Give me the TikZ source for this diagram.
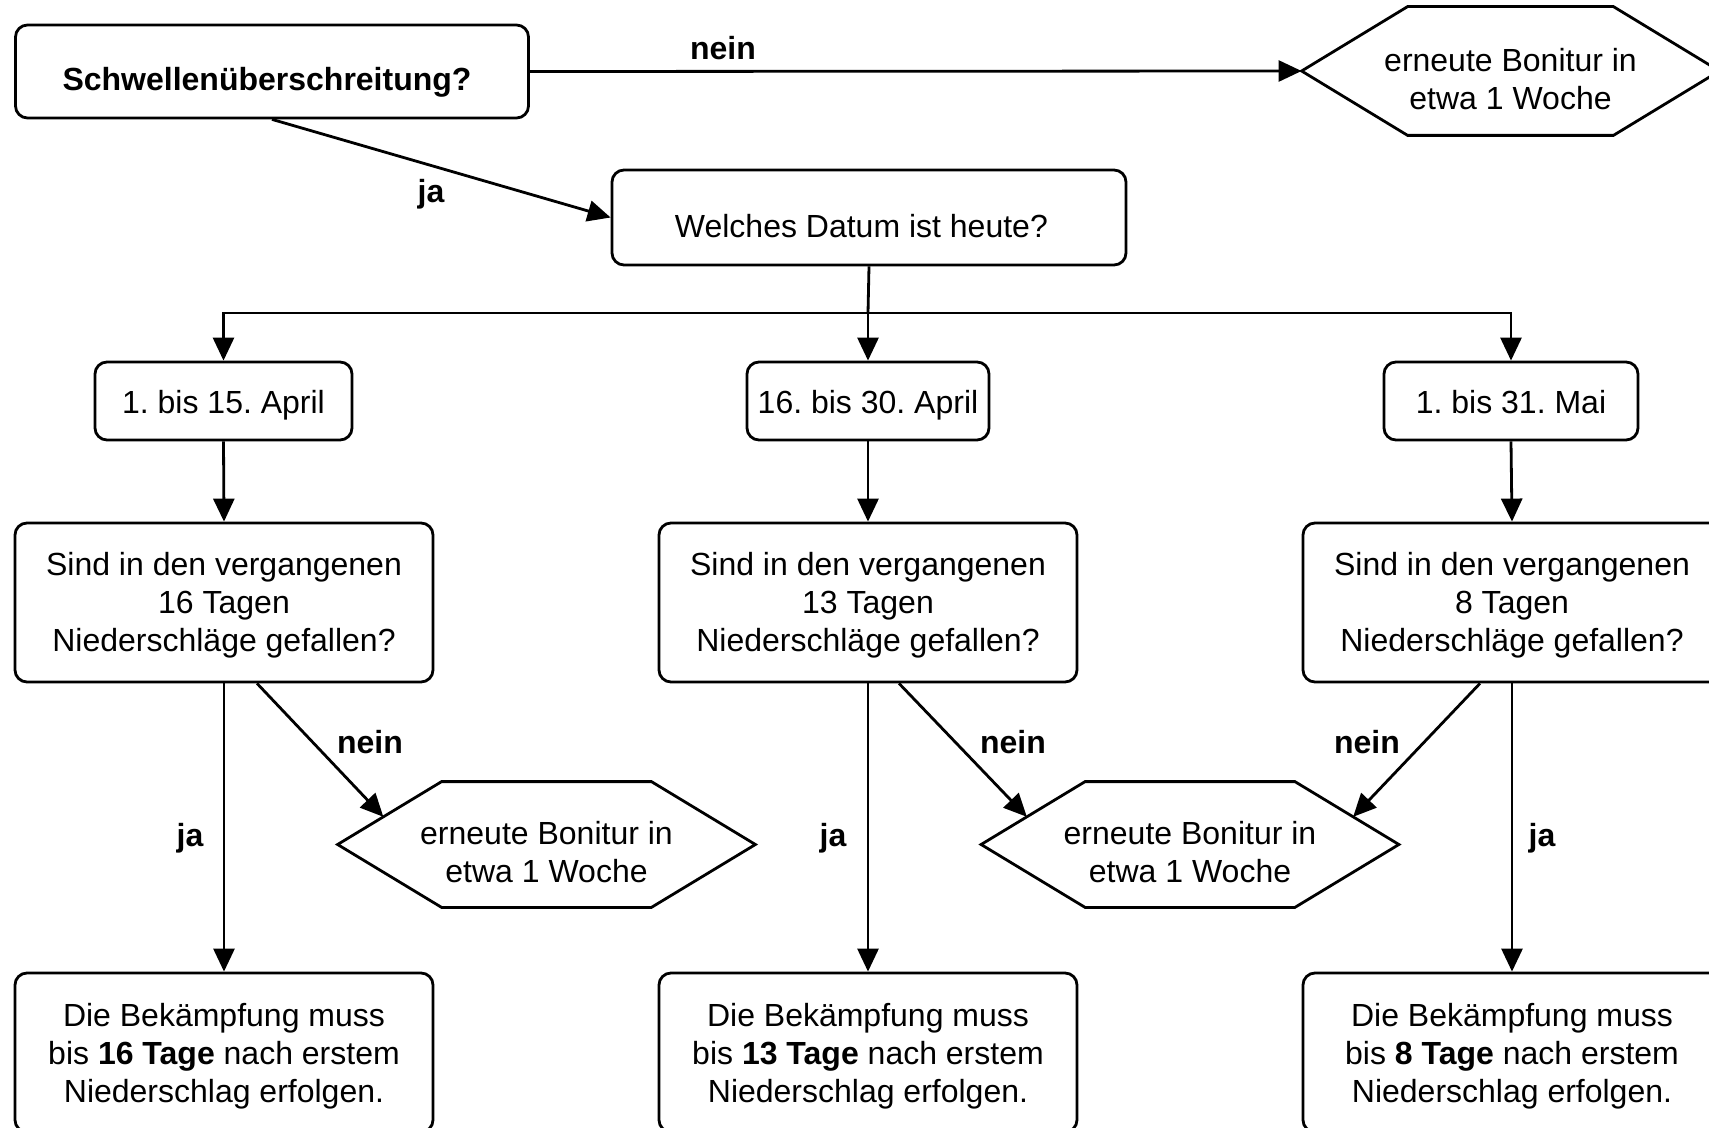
\documentclass[tikz,border=0pt]{standalone}
\usepackage{fontspec}
\setmainfont{Liberation Sans}
\usetikzlibrary{arrows.meta,calc}
\frenchspacing
\newcommand\fsz{\fontsize{16pt}{19pt}\selectfont}
\newcommand\dn[2]{\raisebox{-#1}[\height][\depth]{\begin{tabular}{@{}c@{}}#2\end{tabular}}}
\newcommand\hexpath[2]{%
  \draw[line width=1.4pt] (#1.west) -- ([xshift=#2]#1.north west) -- ([xshift=-#2]#1.north east) -- (#1.east) -- ([xshift=-#2]#1.south east) -- ([xshift=#2]#1.south west) -- cycle;}
\begin{document}
\begin{tikzpicture}[x=0.5pt,y=-0.5pt,
  box/.style={draw, rounded corners=6pt, line width=1.4pt, inner sep=0pt, font=\fsz},
  hexbox/.style={inner sep=0pt, font=\fsz, minimum width=208.5pt},
  arr/.style={line width=1.4pt, -{Triangle[length=11.5pt,width=10.5pt]}},
  line/.style={line width=1.4pt},
  lbl/.style={font=\fsz\bfseries, inner sep=0pt}]
\useasboundingbox (0,0) rectangle (1709,1128);
\fill[white] (0,0) rectangle (1709,1128);

% nodes
\node[box, minimum width=256.5pt, minimum height=46.5pt] (top) at (272,71.5) {\dn{5.6pt}{\textbf{Schwellenüberschreitung?}}\rule{5pt}{0pt}};
\node[hexbox, minimum height=64pt] (hexT) at (1510.5,71) {\dn{6pt}{erneute Bonitur in\\etwa 1 Woche}};
\hexpath{hexT}{53pt}
\node[box, minimum width=257pt, minimum height=47.5pt] (welches) at (869,217.5) {\dn{6.1pt}{Welches Datum ist heute?}\rule{7.6pt}{0pt}};

\node[box, minimum width=128.5pt, minimum height=39pt] (d1) at (223.5,401) {\dn{2.5pt}{1. bis 15. April}};
\node[box, minimum width=121pt, minimum height=39pt] (d2) at (868,401) {\dn{2.5pt}{16. bis 30. April}};
\node[box, minimum width=127pt, minimum height=39pt] (d3) at (1511,401) {\dn{2.5pt}{1. bis 31. Mai}};

\node[box, minimum width=209pt, minimum height=79.5pt] (q1) at (224,602.5) {\dn{1.6pt}{Sind in den vergangenen\\16 Tagen\\Niederschläge gefallen?}};
\node[box, minimum width=209pt, minimum height=79.5pt] (q2) at (868,602.5) {\dn{1.6pt}{Sind in den vergangenen\\13 Tagen\\Niederschläge gefallen?}};
\node[box, minimum width=209pt, minimum height=79.5pt] (q3) at (1512,602.5) {\dn{1.6pt}{Sind in den vergangenen\\8 Tagen\\Niederschläge gefallen?}};

\node[hexbox, minimum height=62.5pt] (h1) at (546.5,844.5) {\dn{5.5pt}{erneute Bonitur in\\etwa 1 Woche}};
\hexpath{h1}{52pt}
\node[hexbox, minimum height=62.5pt] (h2) at (1190,844.5) {\dn{5.5pt}{erneute Bonitur in\\etwa 1 Woche}};
\hexpath{h2}{52pt}

\node[box, minimum width=209pt, minimum height=79.5pt] (b1) at (224,1052.5) {\dn{2.2pt}{Die Bekämpfung muss\\bis \textbf{16 Tage} nach erstem\\Niederschlag erfolgen.}};
\node[box, minimum width=209pt, minimum height=79.5pt] (b2) at (868,1052.5) {\dn{2.2pt}{Die Bekämpfung muss\\bis \textbf{13 Tage} nach erstem\\Niederschlag erfolgen.}};
\node[box, minimum width=209pt, minimum height=79.5pt] (b3) at (1512,1052.5) {\dn{2.2pt}{Die Bekämpfung muss\\bis \textbf{8 Tage} nach erstem\\Niederschlag erfolgen.}};

% coordinates
\coordinate (br) at (868,313);
\coordinate (e1) at ($(h1.west)!0.44!([xshift=52pt]h1.north west)$);
\coordinate (e2) at ($(h2.west)!0.44!([xshift=52pt]h2.north west)$);
\coordinate (e3) at ($(h2.east)!0.44!([xshift=-52pt]h2.north east)$);

% connectors
\draw[arr] (top.east) -- (hexT.west);
\draw[arr] (top.south) -- (welches.west);
\draw[line] (welches.south) -- (br);
\draw[arr] (br) -- (d2.north);
\draw[arr] (br) -| (d1.north);
\draw[arr] (br) -| (d3.north);
\draw[arr] (d1.south) -- (q1.north);
\draw[arr] (d2.south) -- (q2.north);
\draw[arr] (d3.south) -- (q3.north);
\draw[arr] ([xshift=16.5pt]q1.south) -- (e1);
\draw[arr] ([xshift=15.5pt]q2.south) -- (e2);
\draw[arr] ([xshift=-16pt]q3.south) -- (e3);
\draw[arr] (q1.south) -- (b1.north);
\draw[arr] (q2.south) -- (b2.north);
\draw[arr] (q3.south) -- (b3.north);

% labels
\node[lbl] (l1) at (723,48) {nein};
\node[lbl] (l2) at (431,194) {ja};
\node[lbl] (l3) at (370,742) {nein};
\node[lbl] (l4) at (1013,742) {nein};
\node[lbl] (l5) at (1367,742) {nein};
\node[lbl] (l6) at (190,838) {ja};
\node[lbl] (l7) at (833,838) {ja};
\node[lbl] (l8) at (1542,838) {ja};
\end{tikzpicture}
\end{document}
